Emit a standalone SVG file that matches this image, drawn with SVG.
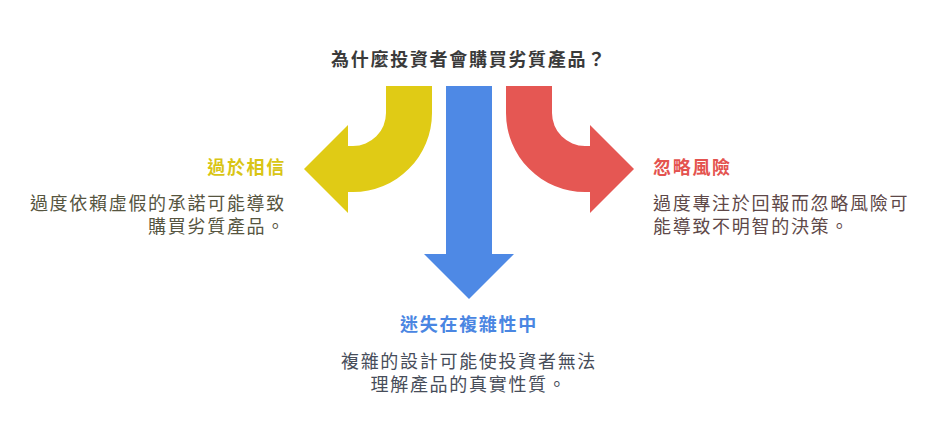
<svg xmlns="http://www.w3.org/2000/svg" width="938" height="446" viewBox="0 0 938 446">
<style>
text{font-family:"Liberation Sans","Noto Sans CJK TC","Noto Sans CJK SC",sans-serif;font-size:18px;letter-spacing:1.7px}
.h{font-weight:bold}
.title{fill:#3a3a3a}
</style>
<rect width="938" height="446" fill="#ffffff"/>
<g id="connectors">
<path id="arrow-left" d="M386,86 L432,86 L432,113 A79,79 0 0 1 353,192 L348,192 L348,213 L304,169 L348,125 L348,146 L353,146 A33,33 0 0 0 386,113 Z" fill="#E0CB15"/>
<path id="arrow-down" d="M446,86 L492,86 L492,254 L514,254 L469,299 L424,254 L446,254 Z" fill="#4E89E5"/>
<path id="arrow-right" d="M552,86 L506,86 L506,113 A79,79 0 0 0 585,192 L590,192 L590,213 L634,169 L590,125 L590,146 L585,146 A33,33 0 0 1 552,113 Z" fill="#E55753"/>
</g>
<g id="title">
<text class="h title" x="469" y="66" text-anchor="middle">為什麼投資者會購買劣質產品？</text>
</g>
<g id="node-left">
<text class="h" x="286" y="174" text-anchor="end" fill="#D9C514">過於相信</text>
<text text-anchor="end" fill="#56553f"><tspan x="286" y="210">過度依賴虛假的承諾可能導致</tspan><tspan x="286" y="233">購買劣質產品。</tspan></text>
</g>
<g id="node-right">
<text class="h" x="653" y="174" fill="#E4534F">忽略風險</text>
<text fill="#5e4848"><tspan x="653" y="210">過度專注於回報而忽略風險可</tspan><tspan x="653" y="233">能導致不明智的決策。</tspan></text>
</g>
<g id="node-center">
<text class="h" x="469" y="331" text-anchor="middle" fill="#4A86E2">迷失在複雜性中</text>
<text text-anchor="middle" fill="#474d5a"><tspan x="469" y="368">複雜的設計可能使投資者無法</tspan><tspan x="469" y="391">理解產品的真實性質。</tspan></text>
</g>
</svg>
